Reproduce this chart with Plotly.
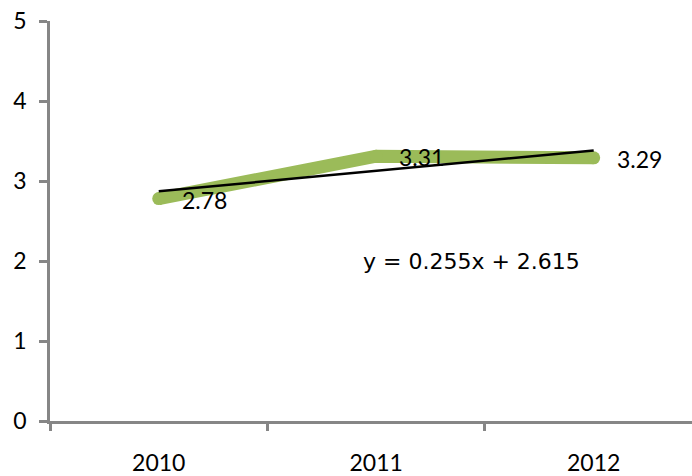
import numpy as np
import plotly.graph_objects as go

years = ["2010", "2011", "2012"]
values = [2.78, 3.31, 3.29]
y_ticks = [0, 1, 2, 3, 4, 5]
equation_label = "y = 0.255x + 2.615"

xpos = list(range(len(years)))
slope, intercept = np.polyfit(np.array(xpos) + 1, values, 1)
trend = [slope * (i + 1) + intercept for i in xpos]

GREEN = "#9BBB59"
AXIS = "#868686"
FONT = "Lato"

fig = go.Figure()
fig.add_trace(go.Scatter(
    x=xpos, y=values, mode="lines+markers",
    line=dict(color=GREEN, width=13),
    marker=dict(color=GREEN, size=13),
    hoverinfo="skip", showlegend=False,
))
fig.add_trace(go.Scatter(
    x=xpos, y=trend, mode="lines",
    line=dict(color="black", width=2.5),
    hoverinfo="skip", showlegend=False,
))

for xi, v in zip(xpos, values):
    fig.add_annotation(x=xi, y=v, text=f"{v:.2f}", showarrow=False,
                       xanchor="left", yanchor="middle", xshift=21, yshift=-1,
                       font=dict(family=FONT, size=23, color="black"))

fig.add_annotation(x=1.44, y=1.99, text=equation_label,
                   showarrow=False, xanchor="center", yanchor="middle",
                   font=dict(family="DejaVu Sans", size=22, color="black"))

fig.update_layout(
    width=692, height=476,
    margin=dict(l=50, r=0, t=21, b=55, autoexpand=False),
    paper_bgcolor="white", plot_bgcolor="white",
    font=dict(family=FONT, size=23, color="black"),
    xaxis=dict(
        range=[-0.5, 2.452], tickvals=xpos, ticktext=years,
        ticks="", showgrid=False, zeroline=False, automargin=False,
        showline=True, linecolor=AXIS, linewidth=2.5,
        ticklabelstandoff=20, ticklabeloverflow="allow",
        minor=dict(tickvals=[-0.5, 0.5, 1.5, 2.5], ticks="outside",
                   ticklen=7, tickcolor=AXIS, tickwidth=2.5, showgrid=False),
    ),
    yaxis=dict(
        range=[0, 5], tickvals=y_ticks, ticks="outside", ticklen=8,
        tickcolor=AXIS, tickwidth=2.5, showgrid=False, zeroline=False,
        automargin=False,
        showline=True, linecolor=AXIS, linewidth=2.5,
        ticklabelstandoff=8, ticklabeloverflow="allow",
    ),
)

fig.write_html("out.html",
               config={"displayModeBar": False},
               post_script="document.body.style.margin='0';document.body.style.overflow='hidden';")
